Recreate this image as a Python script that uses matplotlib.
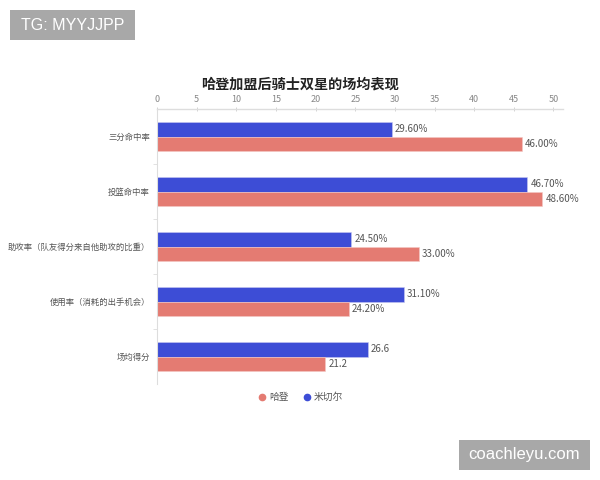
import matplotlib
matplotlib.use("Agg")
import matplotlib.pyplot as plt
from matplotlib.patches import Rectangle
from matplotlib.lines import Line2D
import numpy as np

plt.rcParams['font.family'] = ['Noto Sans CJK SC', 'DejaVu Sans']

categories = ['三分命中率', '投篮命中率', '助攻率（队友得分来自他助攻的比重）',
              '使用率（消耗的出手机会）', '场均得分']
mitchell = [29.6, 46.7, 24.5, 31.1, 26.6]
harden = [46.0, 48.6, 33.0, 24.2, 21.2]
label_fmt = ['{:.2f}%', '{:.2f}%', '{:.2f}%', '{:.2f}%', '{:.1f}']
xticks = [0, 5, 10, 15, 20, 25, 30, 35, 40, 45, 50]

blue = '#3d4dd6'
red = '#e47b72'

fig = plt.figure(figsize=(6, 4.8), dpi=100)
ax = fig.add_axes([157/600, 1-384/480, 406/600, 275/480])

y = np.arange(len(categories))
h = 0.255
ax.barh(y - h/2, mitchell, height=h, color=blue, edgecolor='#c8c8f0', linewidth=0.4)
ax.barh(y + h/2, harden, height=h, color=red, edgecolor='#f4c8c4', linewidth=0.4)

for i in range(len(categories)):
    ax.text(mitchell[i] + 0.4, y[i] - h/2, label_fmt[i].format(mitchell[i]),
            va='center', ha='left', fontsize=7, color='#555555')
    ax.text(harden[i] + 0.4, y[i] + h/2, label_fmt[i].format(harden[i]),
            va='center', ha='left', fontsize=7, color='#555555')

ax.set_xlim(0, 51.2)
ax.set_ylim(4.5, -0.5)
ax.xaxis.tick_top()
ax.set_xticks(xticks)
ax.set_xticklabels([str(t) for t in xticks])
ax.tick_params(axis='x', which='major', direction='inout', length=3, width=0.6,
               color='#cccccc', labelsize=6.5, labelcolor='#888888', pad=2)
ax.set_yticks(y)
ax.set_yticklabels(categories)
ax.tick_params(axis='y', which='major', length=0, labelsize=6.0, labelcolor='#555555', pad=5)
ax.set_yticks([0.5, 1.5, 2.5, 3.5], minor=True)
ax.tick_params(axis='y', which='minor', length=3, width=0.6, color='#dddddd', direction='out')

for s in ['right', 'bottom']:
    ax.spines[s].set_visible(False)
ax.spines['top'].set_color('#dddddd')
ax.spines['top'].set_linewidth(1.0)
ax.spines['left'].set_color('#dddddd')
ax.spines['left'].set_linewidth(0.8)

fig.text(0.5, 1 - 84/480, '哈登加盟后骑士双星的场均表现', ha='center', va='center',
         fontsize=10.2, fontweight='bold', color='#222222')

handles = [Line2D([0], [0], marker='o', linestyle='none', markersize=4.5,
                  markerfacecolor=red, markeredgecolor=red, label='哈登'),
           Line2D([0], [0], marker='o', linestyle='none', markersize=4.5,
                  markerfacecolor=blue, markeredgecolor=blue, label='米切尔')]
leg = fig.legend(handles=handles, loc='center', bbox_to_anchor=(0.5, 1 - 397/480),
                 ncol=2, frameon=False, fontsize=7, handletextpad=0.2,
                 columnspacing=1.4, handlelength=1.0)
for t in leg.get_texts():
    t.set_color('#555555')

# watermark boxes
fig.patches.append(Rectangle((10/600, 1-40/480), 125/600, 30/480, transform=fig.transFigure,
                             facecolor='#a8a8a8', edgecolor='none', zorder=5))
fig.text(72.5/600, 1-25/480, 'TG: MYYJJPP', ha='center', va='center', fontsize=11.5,
         color='white', family='Liberation Sans', zorder=6)
fig.patches.append(Rectangle((459/600, 1-470/480), 131/600, 30/480, transform=fig.transFigure,
                             facecolor='#a8a8a8', edgecolor='none', zorder=5))
fig.text(524.5/600, 1-455/480, 'coachleyu.com', ha='center', va='center', fontsize=12,
         color='white', family='Liberation Sans', zorder=6)

fig.savefig('out.png', dpi=100, facecolor='white')
